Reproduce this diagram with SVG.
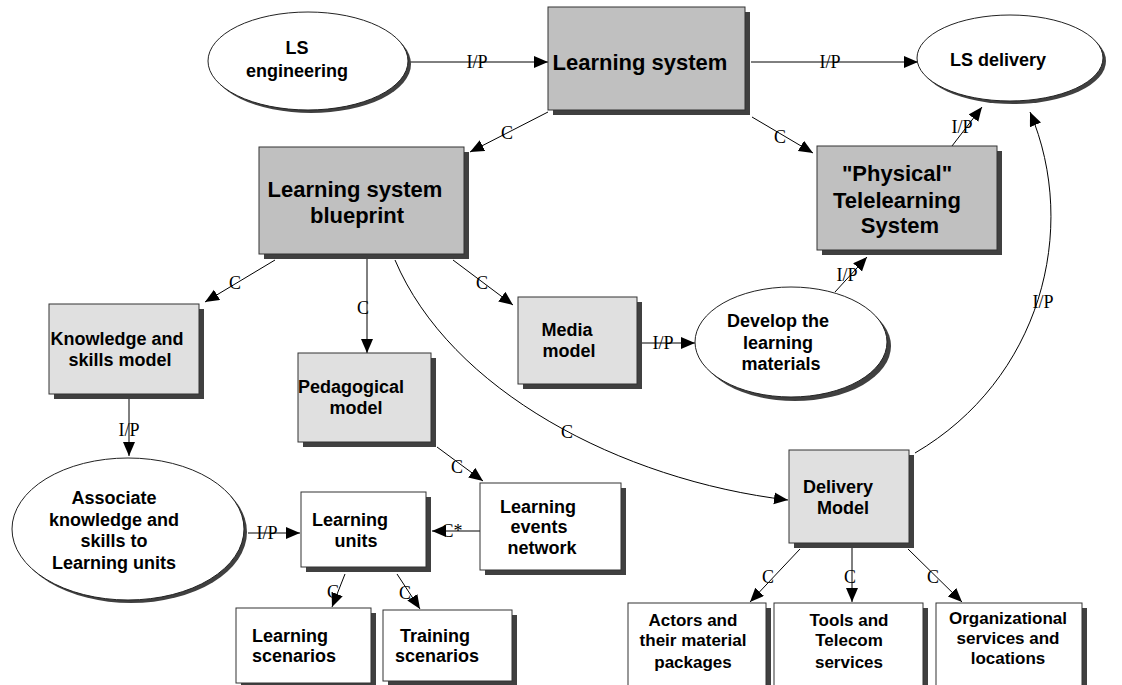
<svg xmlns="http://www.w3.org/2000/svg" width="1122" height="685" viewBox="0 0 1122 685">
<style>
.box{stroke:#333;stroke-width:1}
.dark{fill:#c0c0c0}
.light{fill:#e0e0e0}
.white{fill:#ffffff}
.sh{fill:#404040}
.el{fill:#fff;stroke:#222;stroke-width:1}
.t{font-family:"Liberation Sans",Arial,sans-serif;font-weight:bold;font-size:18px;text-anchor:middle;fill:#000}
.t22{font-size:22px}
.t17{font-size:17px}
.lbl{font-family:"Liberation Serif","Times New Roman",serif;font-size:18px;text-anchor:middle;fill:#000}
.c{fill:none;stroke:#000;stroke-width:1;marker-end:url(#ah)}
</style>
<defs>
<marker id="ah" markerUnits="userSpaceOnUse" markerWidth="15" markerHeight="13" refX="14" refY="6" orient="auto">
<path d="M0,0 L14,6 L0,12 z" fill="#000"/>
</marker>
</defs>
<rect width="1122" height="685" fill="#fff"/>

<g id="connectors">
<line class="c" x1="408" y1="62" x2="548" y2="62"/>
<line class="c" x1="751" y1="62" x2="918" y2="62"/>
<line class="c" x1="548" y1="112" x2="470" y2="152"/>
<line class="c" x1="752" y1="117" x2="813" y2="153"/>
<line class="c" x1="952" y1="146" x2="982" y2="107"/>
<path class="c" d="M915,453 C1040,380 1080,230 1030,112"/>
<line class="c" x1="275" y1="260" x2="205" y2="302"/>
<line class="c" x1="367" y1="259" x2="367" y2="353"/>
<line class="c" x1="453" y1="260" x2="513" y2="305"/>
<line class="c" x1="129" y1="399" x2="129" y2="456"/>
<line class="c" x1="642" y1="343" x2="695" y2="343"/>
<line class="c" x1="835" y1="292" x2="867" y2="257"/>
<path class="c" d="M395,260 C450,390 620,480 788,500"/>
<line class="c" x1="437" y1="447" x2="483" y2="481"/>
<line class="c" x1="480" y1="531" x2="432" y2="531"/>
<line class="c" x1="248" y1="533" x2="300" y2="533"/>
<line class="c" x1="345" y1="574" x2="332" y2="607"/>
<line class="c" x1="397" y1="574" x2="420" y2="609"/>
<line class="c" x1="800" y1="549" x2="750" y2="602"/>
<line class="c" x1="852" y1="548" x2="852" y2="602"/>
<line class="c" x1="908" y1="549" x2="962" y2="602"/>
<g class="lbl">
<text class="lbl" x="477" y="68">I/P</text>
<text class="lbl" x="830" y="68">I/P</text>
<text class="lbl" x="507" y="139">C</text>
<text class="lbl" x="780" y="143">C</text>
<text class="lbl" x="962" y="133">I/P</text>
<text class="lbl" x="1043" y="308">I/P</text>
<text class="lbl" x="235" y="289">C</text>
<text class="lbl" x="363" y="314">C</text>
<text class="lbl" x="482" y="289">C</text>
<text class="lbl" x="129" y="436">I/P</text>
<text class="lbl" x="663" y="349">I/P</text>
<text class="lbl" x="847" y="281">I/P</text>
<text class="lbl" x="567" y="438">C</text>
<text class="lbl" x="457" y="473">C</text>
<text class="lbl" x="452" y="537">C*</text>
<text class="lbl" x="267" y="539">I/P</text>
<text class="lbl" x="333" y="598">C</text>
<text class="lbl" x="405" y="599">C</text>
<text class="lbl" x="768" y="583">C</text>
<text class="lbl" x="850" y="583">C</text>
<text class="lbl" x="933" y="583">C</text>
</g>
</g>

<g id="ls-engineering">
<ellipse class="sh" cx="311" cy="64" rx="100" ry="49"/>
<ellipse class="el" cx="308" cy="61" rx="100" ry="49"/>
<text class="t" x="297" y="54">LS</text>
<text class="t" x="297" y="77">engineering</text>
</g>

<g id="learning-system">
<rect class="sh" x="553" y="12" width="197" height="103"/>
<rect class="box dark" x="548" y="7" width="197" height="103"/>
<text class="t t22" x="640" y="70">Learning system</text>
</g>

<g id="ls-delivery">
<ellipse class="sh" cx="1013" cy="61" rx="93" ry="43"/>
<ellipse class="el" cx="1010" cy="58" rx="93" ry="43"/>
<text class="t" x="998" y="66">LS delivery</text>
</g>

<g id="physical-telelearning">
<rect class="sh" x="822" y="151" width="180" height="104"/>
<rect class="box dark" x="817" y="146" width="180" height="104"/>
<text class="t t22" x="897" y="181">"Physical"</text>
<text class="t t22" x="897" y="208">Telelearning</text>
<text class="t t22" x="900" y="233">System</text>
</g>

<g id="blueprint">
<rect class="sh" x="264" y="152" width="205" height="107"/>
<rect class="box dark" x="259" y="147" width="205" height="107"/>
<text class="t t22" x="355" y="197">Learning system</text>
<text class="t t22" x="357" y="223">blueprint</text>
</g>

<g id="knowledge-model">
<rect class="sh" x="54" y="309" width="150" height="90"/>
<rect class="box light" x="49" y="304" width="150" height="90"/>
<text class="t" x="117" y="345">Knowledge and</text>
<text class="t" x="120" y="366">skills model</text>
</g>

<g id="pedagogical-model">
<rect class="sh" x="303" y="358" width="133" height="89"/>
<rect class="box light" x="298" y="353" width="133" height="89"/>
<text class="t" x="351" y="393">Pedagogical</text>
<text class="t" x="356" y="414">model</text>
</g>

<g id="media-model">
<rect class="sh" x="523" y="302" width="119" height="87"/>
<rect class="box light" x="518" y="297" width="119" height="87"/>
<text class="t" x="567" y="336">Media</text>
<text class="t" x="569" y="357">model</text>
</g>

<g id="develop-materials">
<ellipse class="sh" cx="795" cy="346" rx="96" ry="55"/>
<ellipse class="el" cx="791" cy="342" rx="96" ry="55"/>
<text class="t" x="778" y="327">Develop the</text>
<text class="t" x="778" y="349">learning</text>
<text class="t" x="781" y="370">materials</text>
</g>

<g id="delivery-model">
<rect class="sh" x="794" y="455" width="120" height="93"/>
<rect class="box light" x="789" y="450" width="120" height="93"/>
<text class="t" x="838" y="493">Delivery</text>
<text class="t" x="843" y="514">Model</text>
</g>

<g id="associate">
<ellipse class="sh" cx="131" cy="532" rx="116" ry="71"/>
<ellipse class="el" cx="128" cy="529" rx="116" ry="71"/>
<text class="t" x="114" y="504">Associate</text>
<text class="t" x="114" y="526">knowledge and</text>
<text class="t" x="114" y="547">skills to</text>
<text class="t" x="114" y="569">Learning units</text>
</g>

<g id="learning-units">
<rect class="sh" x="306" y="497" width="125" height="75"/>
<rect class="box white" x="301" y="492" width="125" height="75"/>
<text class="t" x="350" y="526">Learning</text>
<text class="t" x="356" y="547">units</text>
</g>

<g id="learning-events">
<rect class="sh" x="485" y="488" width="141" height="87"/>
<rect class="box white" x="480" y="483" width="141" height="87"/>
<text class="t" x="538" y="513">Learning</text>
<text class="t" x="539" y="533">events</text>
<text class="t" x="542" y="554">network</text>
</g>

<g id="learning-scenarios">
<rect class="sh" x="241" y="613" width="135" height="75"/>
<rect class="box white" x="236" y="608" width="135" height="75"/>
<text class="t" x="290" y="642">Learning</text>
<text class="t" x="294" y="662">scenarios</text>
</g>

<g id="training-scenarios">
<rect class="sh" x="388" y="615" width="129" height="71"/>
<rect class="box white" x="383" y="610" width="129" height="71"/>
<text class="t" x="435" y="642">Training</text>
<text class="t" x="437" y="662">scenarios</text>
</g>

<g id="actors">
<rect class="sh" x="633" y="608" width="138" height="100"/>
<rect class="box white" x="628" y="603" width="138" height="100"/>
<text class="t t17" x="693" y="626">Actors and</text>
<text class="t t17" x="693" y="646">their material</text>
<text class="t t17" x="693" y="668">packages</text>
</g>

<g id="tools">
<rect class="sh" x="779" y="608" width="149" height="100"/>
<rect class="box white" x="774" y="603" width="149" height="100"/>
<text class="t t17" x="849" y="626">Tools and</text>
<text class="t t17" x="849" y="646">Telecom</text>
<text class="t t17" x="849" y="668">services</text>
</g>

<g id="organizational">
<rect class="sh" x="941" y="608" width="146" height="100"/>
<rect class="box white" x="936" y="603" width="146" height="100"/>
<text class="t t17" x="1008" y="624">Organizational</text>
<text class="t t17" x="1008" y="644">services and</text>
<text class="t t17" x="1008" y="664">locations</text>
</g>
</svg>
